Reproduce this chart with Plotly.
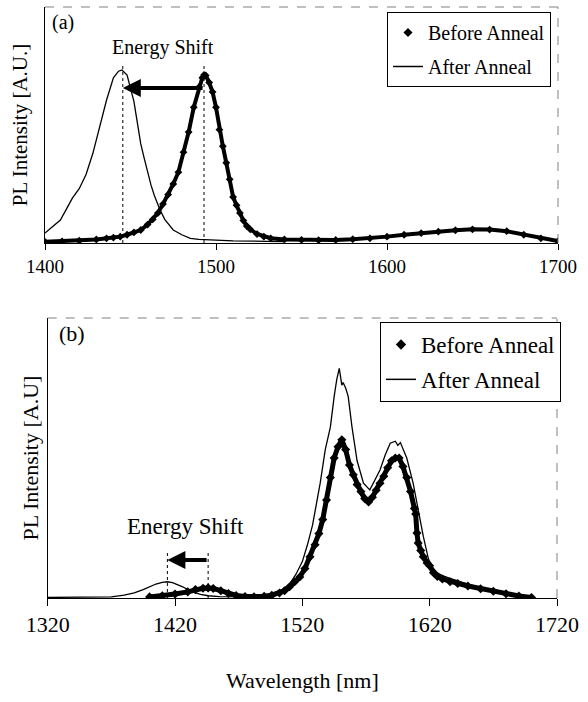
import plotly.graph_objects as go

# ---------------- Panel (a) data ----------------
a_before_x = [1400, 1410, 1420, 1430, 1436, 1440, 1444, 1448, 1452, 1456, 1460, 1463, 1466, 1469,
              1472, 1475, 1478, 1481, 1484, 1487, 1490, 1492, 1493, 1494, 1496, 1498, 1500, 1502,
              1504, 1506, 1508, 1510, 1512, 1514, 1516, 1518, 1520, 1524, 1528, 1532, 1540, 1550,
              1560, 1570, 1580, 1590, 1600, 1610, 1620, 1630, 1640, 1650, 1660, 1670, 1680, 1690, 1700]
a_before_y = [0.005, 0.007, 0.010, 0.015, 0.020, 0.023, 0.027, 0.035, 0.045, 0.055, 0.078, 0.100, 0.127, 0.165,
              0.205, 0.250, 0.300, 0.385, 0.470, 0.575, 0.660, 0.700, 0.712, 0.710, 0.680, 0.640, 0.575, 0.480,
              0.410, 0.340, 0.270, 0.195, 0.160, 0.127, 0.095, 0.072, 0.058, 0.038, 0.027, 0.020, 0.015, 0.013,
              0.012, 0.013, 0.016, 0.020, 0.027, 0.035, 0.042, 0.048, 0.054, 0.058, 0.057, 0.050, 0.035, 0.020, 0.008]

a_after_x = [1400, 1404, 1409, 1413, 1416, 1420, 1424, 1428, 1432, 1436, 1440, 1443, 1445, 1448, 1450,
             1452, 1454, 1456, 1458, 1460, 1462, 1464, 1467, 1470, 1475, 1480, 1485, 1490, 1498, 1510, 1530, 1540]
a_after_y = [0.042, 0.065, 0.097, 0.150, 0.190, 0.230, 0.290, 0.380, 0.490, 0.606, 0.700, 0.728, 0.733, 0.712, 0.655,
             0.600, 0.510, 0.420, 0.360, 0.300, 0.245, 0.200, 0.145, 0.100, 0.055, 0.035, 0.020, 0.015, 0.012, 0.009, 0.007, 0.006]

a_peak_before = 1493
a_peak_after = 1445.5

# ---------------- Panel (b) data ----------------
b_before_x = [1400, 1410, 1420, 1430, 1436, 1442, 1446, 1450, 1456, 1462, 1468, 1475, 1482, 1490, 1496,
              1502, 1506, 1510, 1514, 1518, 1522, 1526, 1530, 1533, 1536, 1539, 1542, 1545, 1548, 1551,
              1554, 1557, 1560, 1563, 1566, 1569, 1572, 1575, 1578, 1581, 1584, 1587, 1590, 1593, 1596,
              1599, 1602, 1605, 1608, 1609, 1610, 1611, 1613, 1615, 1618, 1620, 1623, 1626, 1630, 1636,
              1642, 1650, 1660, 1670, 1680, 1690, 1700]
b_before_y = [0.004, 0.008, 0.014, 0.022, 0.030, 0.035, 0.036, 0.034, 0.026, 0.016, 0.009, 0.005, 0.004, 0.006, 0.010,
              0.018, 0.026, 0.040, 0.058, 0.075, 0.105, 0.147, 0.190, 0.230, 0.280, 0.350, 0.430, 0.500, 0.540, 0.565,
              0.530, 0.475, 0.440, 0.405, 0.380, 0.355, 0.343, 0.360, 0.385, 0.410, 0.435, 0.465, 0.490, 0.500, 0.500,
              0.470, 0.430, 0.380, 0.320, 0.300, 0.232, 0.196, 0.170, 0.147, 0.125, 0.115, 0.090, 0.077, 0.068, 0.058,
              0.052, 0.043, 0.033, 0.024, 0.015, 0.007, 0.002]

b_after_x = [1320, 1340, 1360, 1370, 1380, 1388, 1395, 1400, 1405, 1410, 1414, 1418, 1422, 1426, 1430,
             1435, 1440, 1446, 1455, 1465, 1475, 1485, 1495, 1500, 1505, 1510, 1515, 1520, 1524, 1528,
             1531, 1534, 1538, 1542, 1545, 1547, 1549, 1550, 1551, 1552, 1554, 1556, 1559, 1563, 1568,
             1573, 1577, 1581, 1585, 1589, 1593, 1595, 1597, 1599, 1602, 1607, 1611, 1615, 1619, 1622,
             1626, 1630, 1636, 1640, 1650, 1660, 1670, 1680, 1690, 1700]
b_after_y = [0.002, 0.002, 0.003, 0.004, 0.010, 0.018, 0.030, 0.040, 0.050, 0.056, 0.058, 0.055, 0.048, 0.040, 0.030,
             0.020, 0.013, 0.008, 0.005, 0.004, 0.004, 0.005, 0.010, 0.018, 0.030, 0.050, 0.085, 0.130, 0.190, 0.260,
             0.330, 0.410, 0.530, 0.610, 0.720, 0.780, 0.820, 0.790, 0.760, 0.770, 0.750, 0.720, 0.610, 0.490, 0.410,
             0.386, 0.420, 0.457, 0.510, 0.553, 0.560, 0.545, 0.555, 0.535, 0.500, 0.410, 0.314, 0.220, 0.140, 0.110,
             0.090, 0.080, 0.070, 0.065, 0.050, 0.037, 0.025, 0.014, 0.006, 0.002]

b_peak_before = 1446
b_peak_after = 1414

a_ticks = [1400, 1500, 1600, 1700]
b_ticks = [1320, 1420, 1520, 1620, 1720]

FONT = "Liberation Serif, Times New Roman, serif"
W, H = 588, 702

fig = go.Figure()

# Panel (a)
fig.add_trace(go.Scatter(x=a_before_x, y=a_before_y, mode="lines+markers",
                         line=dict(color="black", width=4),
                         marker=dict(symbol="diamond", size=6, color="black"),
                         showlegend=False, xaxis="x", yaxis="y"))
fig.add_trace(go.Scatter(x=a_after_x, y=a_after_y, mode="lines",
                         line=dict(color="black", width=1.3),
                         showlegend=False, xaxis="x", yaxis="y"))
fig.add_trace(go.Scatter(x=[None], y=[None], mode="markers", name="Before Anneal",
                         marker=dict(symbol="diamond", size=7, color="black"),
                         legend="legend", legendgroup="a1", xaxis="x", yaxis="y"))
fig.add_trace(go.Scatter(x=[None], y=[None], mode="lines", name="After Anneal",
                         line=dict(color="black", width=1.5),
                         legend="legend", legendgroup="a2", xaxis="x", yaxis="y"))

# Panel (b)
fig.add_trace(go.Scatter(x=b_before_x, y=b_before_y, mode="lines+markers",
                         line=dict(color="black", width=5),
                         marker=dict(symbol="diamond", size=7, color="black"),
                         showlegend=False, xaxis="x2", yaxis="y2"))
fig.add_trace(go.Scatter(x=b_after_x, y=b_after_y, mode="lines",
                         line=dict(color="black", width=1.3),
                         showlegend=False, xaxis="x2", yaxis="y2"))
fig.add_trace(go.Scatter(x=[None], y=[None], mode="markers", name="Before Anneal",
                         marker=dict(symbol="diamond", size=8, color="black"),
                         legend="legend2", legendgroup="b1", xaxis="x2", yaxis="y2"))
fig.add_trace(go.Scatter(x=[None], y=[None], mode="lines", name="After Anneal",
                         line=dict(color="black", width=1.5),
                         legend="legend2", legendgroup="b2", xaxis="x2", yaxis="y2"))

ax_common = dict(showgrid=False, zeroline=False, showline=True, linecolor="black", linewidth=1,
                 automargin=False)

fig.update_layout(
    width=W, height=H, margin=dict(l=0, r=0, t=0, b=0, autoexpand=False),
    paper_bgcolor="white", plot_bgcolor="white",
    font=dict(family=FONT, color="black"),
    xaxis=dict(domain=[45 / W, 558 / W], range=[1400, 1700], tickvals=a_ticks,
               ticks="outside", ticklen=6, tickcolor="black",
               tickfont=dict(size=19, family=FONT), anchor="y", **ax_common),
    yaxis=dict(domain=[1 - 243 / H, 1 - 7 / H], range=[0, 1], showticklabels=False, ticks="",
               title=dict(text="PL Intensity [A.U.]", font=dict(size=21, family=FONT), standoff=10),
               anchor="x", **ax_common),
    xaxis2=dict(domain=[47.7 / W, 557 / W], range=[1320, 1720], tickvals=b_ticks,
                ticks="outside", ticklen=7, tickcolor="black",
                tickfont=dict(size=22, family=FONT), anchor="y2",
                title=dict(text="Wavelength [nm]", font=dict(size=22, family=FONT), standoff=36),
                **ax_common),
    yaxis2=dict(domain=[1 - 598 / H, 1 - 318 / H], range=[0, 1], showticklabels=False, ticks="",
                title=dict(text="PL Intensity [A.U]", font=dict(size=22, family=FONT), standoff=2),
                anchor="x2", **ax_common),
    legend=dict(x=387 / W, y=1 - 12 / H, xanchor="left", yanchor="top",
                bordercolor="black", borderwidth=1, bgcolor="white",
                font=dict(size=20, family=FONT), tracegroupgap=5, itemwidth=30),
    legend2=dict(x=380 / W, y=1 - 322 / H, xanchor="left", yanchor="top",
                 bordercolor="black", borderwidth=1, bgcolor="white",
                 font=dict(size=23, family=FONT), tracegroupgap=2, itemwidth=30),
)

# border (top/right) dashed gray
for xr, yr in [("x domain", "y domain"), ("x2 domain", "y2 domain")]:
    fig.add_shape(type="line", xref=xr, yref=yr, x0=0, x1=1, y0=1, y1=1,
                  line=dict(color="gray", width=1, dash="dash"))
    fig.add_shape(type="line", xref=xr, yref=yr, x0=1, x1=1, y0=0, y1=1,
                  line=dict(color="gray", width=1, dash="dash"))

# dotted markers of peak positions
for xv in [a_peak_after, a_peak_before]:
    fig.add_shape(type="line", xref="x", yref="y", x0=xv, x1=xv, y0=0, y1=0.763,
                  line=dict(color="black", width=1, dash="dot"))
for xv in [b_peak_after, b_peak_before]:
    fig.add_shape(type="line", xref="x2", yref="y2", x0=xv, x1=xv, y0=0, y1=0.168,
                  line=dict(color="black", width=1, dash="dot"))

# arrows
fig.add_annotation(x=a_peak_after, y=0.657, ax=a_peak_before, ay=0.657, xref="x", yref="y",
                   axref="x", ayref="y", text="", showarrow=True, arrowhead=2,
                   arrowsize=0.9, arrowwidth=4, arrowcolor="black")
fig.add_annotation(x=b_peak_after, y=0.136, ax=b_peak_before, ay=0.136, xref="x2", yref="y2",
                   axref="x2", ayref="y2", text="", showarrow=True, arrowhead=2,
                   arrowsize=0.9, arrowwidth=4, arrowcolor="black")

# labels
fig.add_annotation(x=1469, y=0.83, xref="x", yref="y", text="Energy Shift", showarrow=False,
                   font=dict(size=20, family=FONT))
fig.add_annotation(x=1428.5, y=0.254, xref="x2", yref="y2", text="Energy Shift", showarrow=False,
                   font=dict(size=23, family=FONT))
fig.add_annotation(x=1403, y=0.936, xref="x", yref="y", text="(a)", showarrow=False,
                   xanchor="left", font=dict(size=20, family=FONT))
fig.add_annotation(x=1327.3, y=0.946, xref="x2", yref="y2", text="(b)", showarrow=False,
                   xanchor="left", font=dict(size=22, family=FONT))

fig.write_html("out.html")
